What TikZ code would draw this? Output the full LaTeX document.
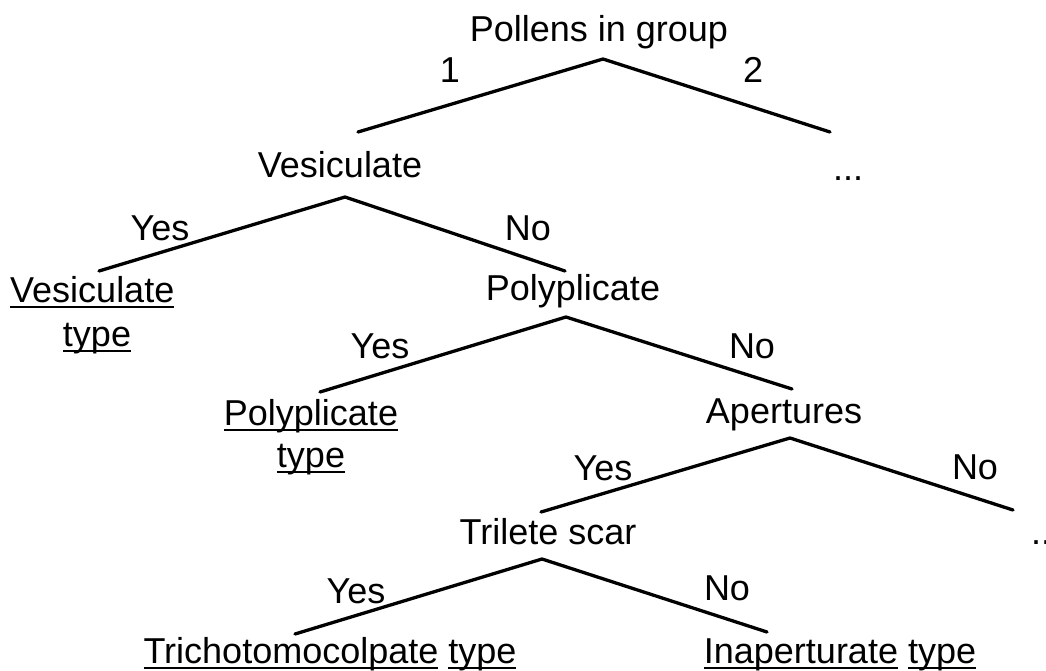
\documentclass[tikz,border=0pt]{standalone}
\usepackage{fontspec}
\setmainfont{Liberation Sans}
\newcommand\myul[1]{\setbox0=\hbox{#1}\rlap{\rule[-6.2pt]{\wd0}{2.4pt}}\box0\relax}
\begin{document}
\begin{tikzpicture}[x=1pt,y=-1pt,
  lbl/.style={font=\fontsize{36}{40}\selectfont, anchor=base, inner sep=0pt},
  edge/.style={line width=3.3pt, line cap=round, line join=round}]
\useasboundingbox (0,0) rectangle (1046,670);
% nodes
\node[lbl] (root) at (599,41) {Pollens in group};
\node[lbl] (vesq) at (340,177) {Vesiculate};
\node[lbl] (dots1) at (848,180) {...};
\node[lbl, anchor=base west] (vest) at (10,302) {\myul{Vesiculate}};
\node[lbl] (vest2) at (97,346) {\myul{type}};
\node[lbl] (polq) at (573,300) {Polyplicate};
\node[lbl] (polt) at (311,425) {\myul{Polyplicate}};
\node[lbl] (polt2) at (311,467) {\myul{type}};
\node[lbl] (apq) at (784,423) {Apertures};
\node[lbl] (trq) at (548,544) {Trilete scar};
\node[lbl] (dots2) at (1046,544) {...};
\node[lbl] (trt) at (330,663) {\myul{Trichotomocolpate} \myul{type}};
\node[lbl] (int) at (840,663) {\myul{Inaperturate} \myul{type}};
% branch points
\coordinate (a0) at (603,59);
\coordinate (a0l) at (358,132);
\coordinate (a0r) at (830,132);
\coordinate (a1) at (345,197);
\coordinate (a1l) at (99,271);
\coordinate (a1r) at (565,271);
\coordinate (a2) at (566,317);
\coordinate (a2l) at (320,392);
\coordinate (a2r) at (792,389);
\coordinate (a3) at (790,438);
\coordinate (a3l) at (541,512);
\coordinate (a3r) at (1013,510);
\coordinate (a4) at (542,559);
\coordinate (a4l) at (295,634);
\coordinate (a4r) at (767,632);
\draw[edge] (a0l) -- (a0) -- (a0r);
\draw[edge] (a1l) -- (a1) -- (a1r);
\draw[edge] (a2l) -- (a2) -- (a2r);
\draw[edge] (a3l) -- (a3) -- (a3r);
\draw[edge] (a4l) -- (a4) -- (a4r);
% edge labels
\node[lbl] (e1) at (450,82) {1};
\node[lbl] (e2) at (753,82) {2};
\node[lbl] (y1) at (160,240) {Yes};
\node[lbl] (n1) at (528,240) {No};
\node[lbl] (y2) at (380,358) {Yes};
\node[lbl] (n2) at (752,358) {No};
\node[lbl] (y3) at (603,480) {Yes};
\node[lbl] (n3) at (975,479) {No};
\node[lbl] (y4) at (356,603) {Yes};
\node[lbl] (n4) at (727,600) {No};
\end{tikzpicture}
\end{document}
